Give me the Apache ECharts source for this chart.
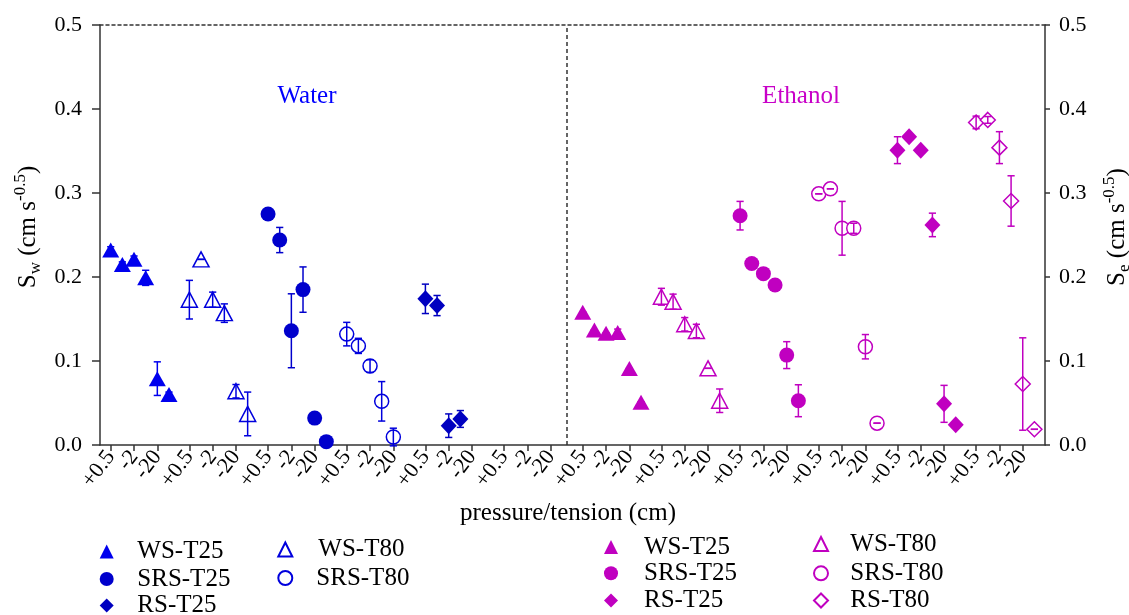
<!DOCTYPE html>
<html><head><meta charset="utf-8">
<script src="https://cdn.jsdelivr.net/npm/echarts@6/dist/echarts.min.js"></script>
<style>html,body{margin:0;padding:0;background:#fff}#c{width:1129px;height:615px}</style>
</head><body><div id="c"></div>
<script>
// ---- axis / category structure ----
const tickLabels = ['+0.5', '-2', '-20'];
const tickOffsets = [0, 2, 4];
const groupCount = 12;
const groupStep = 6.75;

// ---- Water (left axis, S_w) ----
const wWS25 = [0.232, 0.215, 0.221, 0.199, 0.079, 0.060];
const wWS25Err = [0.004, 0.003, 0.004, 0.009, 0.020, 0.003];
const wWS80 = [0.173, 0.221, 0.173, 0.157, 0.064, 0.037];
const wWS80Err = [0.023, 0, 0.009, 0.011, 0.008, 0.026];
const wSRS25 = [0.275, 0.244, 0.136, 0.185, 0.032, 0.004];
const wSRS25Err = [0, 0.015, 0.044, 0.027, 0, 0];
const wSRS80 = [0.132, 0.118, 0.094, 0.052, 0.0095];
const wSRS80Err = [0.014, 0.009, 0.0075, 0.0235, 0.0105];
const wRS25 = [0.174, 0.166, 0.023, 0.031];
const wRS25Err = [0.0175, 0.012, 0.014, 0.010];

// ---- Ethanol (right axis, S_e) ----
const eWS25 = [0.158, 0.137, 0.133, 0.134, 0.091, 0.051];
const eWS25Err = [0, 0, 0, 0.004, 0, 0];
const eWS80 = [0.1765, 0.1706, 0.1437, 0.1357, 0.0913, 0.0527];
const eWS80Err = [0.010, 0.009, 0.008, 0.008, 0, 0.014];
const eSRS25 = [0.273, 0.216, 0.204, 0.1905, 0.107, 0.0527];
const eSRS25Err = [0.017, 0, 0, 0, 0.016, 0.019];
const eSRS80 = [0.299, 0.305, 0.258, 0.258, 0.117, 0.026];
const eSRS80Err = [0, 0, 0.032, 0.006, 0.0145, 0];
const eRS25 = [0.351, 0.367, 0.351, 0.262, 0.049, 0.024];
const eRS25Err = [0.016, 0, 0, 0.014, 0.022, 0];
const eRS80 = [0.384, 0.387, 0.354, 0.2905, 0.0726, 0.0187];
const eRS80Err = [0.0075, 0.004, 0.019, 0.030, 0.055, 0];

const FONT = 'Liberation Serif';
const BLUE_T = '#0000ee', BLUE_C = '#0000cc', BLUE_D = '#0000c0', BLUE_H = '#0000dd';
const MAG = '#c000c0';
const AXIS = '#333';

const seriesDefs = [
  {name: 'Water WS-T25', group: 0, vals: wWS25, errs: wWS25Err, symbol: 'triangle', size: [17, 15], hollow: false, color: BLUE_T, y: 0},
  {name: 'Water WS-T80', group: 1, vals: wWS80, errs: wWS80Err, symbol: 'triangle', size: [16, 15], hollow: true, color: BLUE_H, y: 0},
  {name: 'Water SRS-T25', group: 2, vals: wSRS25, errs: wSRS25Err, symbol: 'circle', size: 15, hollow: false, color: BLUE_C, y: 0},
  {name: 'Water SRS-T80', group: 3, vals: wSRS80, errs: wSRS80Err, symbol: 'circle', size: 14, hollow: true, color: BLUE_H, y: 0},
  {name: 'Water RS-T25', group: 4, vals: wRS25, errs: wRS25Err, symbol: 'diamond', size: [16, 17], hollow: false, color: BLUE_D, y: 0},
  {name: 'Ethanol WS-T25', group: 6, vals: eWS25, errs: eWS25Err, symbol: 'triangle', size: [17, 15], hollow: false, color: MAG, y: 1},
  {name: 'Ethanol WS-T80', group: 7, vals: eWS80, errs: eWS80Err, symbol: 'triangle', size: [16, 15], hollow: true, color: MAG, y: 1},
  {name: 'Ethanol SRS-T25', group: 8, vals: eSRS25, errs: eSRS25Err, symbol: 'circle', size: 15, hollow: false, color: MAG, y: 1},
  {name: 'Ethanol SRS-T80', group: 9, vals: eSRS80, errs: eSRS80Err, symbol: 'circle', size: 14, hollow: true, color: MAG, y: 1},
  {name: 'Ethanol RS-T25', group: 10, vals: eRS25, errs: eRS25Err, symbol: 'diamond', size: [16, 17], hollow: false, color: MAG, y: 1},
  {name: 'Ethanol RS-T80', group: 11, vals: eRS80, errs: eRS80Err, symbol: 'diamond', size: 15, hollow: true, color: MAG, y: 1}
];

// tick values & labels (padded with hidden values at the axis ends)
const xMin = -0.918, xMax = 80.16;
const tickValues = [xMin + 0.01];
const tickLabelMap = {};
for (let g = 0; g < groupCount; g++) {
  tickOffsets.forEach((o, i) => {
    const v = g * groupStep + o;
    tickValues.push(v);
    tickLabelMap[v.toFixed(3)] = tickLabels[i];
  });
}
tickValues.push(xMax - 0.01);
const dividerX = ((5 * groupStep + 4) + 6 * groupStep) / 2;

const series = [];
seriesDefs.forEach(d => {
  const pts = d.vals.map((v, j) => [d.group * groupStep + j, v, d.errs[j] || 0]);
  series.push({
    type: 'scatter', name: d.name, xAxisIndex: 0, yAxisIndex: d.y,
    symbol: d.symbol, symbolSize: d.size, z: 2,
    itemStyle: d.hollow ? {color: '#fff', borderColor: d.color, borderWidth: 1.5, opacity: 1} : {color: d.color, borderWidth: 0, opacity: 1},
    emphasis: {disabled: true},
    data: pts.map(p => [p[0], p[1]])
  });
  series.push({
    type: 'custom', name: d.name + ' err', xAxisIndex: 0, yAxisIndex: d.y, z: 3, silent: true,
    encode: {x: 0, y: 1},
    data: pts,
    renderItem: function (params, api) {
      const x = api.value(0), y = api.value(1), e = api.value(2);
      const hi = api.coord([x, y + e]);
      const lo = api.coord([x, y - e]);
      const w = 3.6;
      const st = {stroke: d.color, lineWidth: 1.5};
      return {type: 'group', children: [
        {type: 'line', shape: {x1: hi[0], y1: hi[1], x2: lo[0], y2: lo[1]}, style: st},
        {type: 'line', shape: {x1: hi[0] - w, y1: hi[1], x2: hi[0] + w, y2: hi[1]}, style: st},
        {type: 'line', shape: {x1: lo[0] - w, y1: lo[1], x2: lo[0] + w, y2: lo[1]}, style: st}
      ]};
    }
  });
});
series.push({
  type: 'scatter', name: 'divider', xAxisIndex: 0, yAxisIndex: 0, data: [], silent: true,
  markLine: {silent: true, symbol: ['none', 'none'], label: {show: false}, animation: false,
    lineStyle: {color: AXIS, type: [4, 3], width: 1.5},
    data: [{xAxis: dividerX}]}
});

// one legend component per entry: [series name, icon centre x, icon centre y, text padding]
const legendEntries = [
  ['Water WS-T25', 106.7, 551.5, 18.6], ['Water SRS-T25', 106.7, 579, 18.6], ['Water RS-T25', 106.7, 605.5, 18.6],
  ['Water WS-T80', 284.3, 549.5, 21], ['Water SRS-T80', 284.3, 578, 19],
  ['Ethanol WS-T25', 611, 547, 21], ['Ethanol SRS-T25', 611, 573.3, 21], ['Ethanol RS-T25', 611, 600.5, 21],
  ['Ethanol WS-T80', 820, 544, 17.3], ['Ethanol SRS-T80', 820, 573.3, 17.3], ['Ethanol RS-T80', 820, 600.5, 17.3]
];
const legends = legendEntries.map(e => ({
  type: 'plain', data: [e[0]], orient: 'horizontal', left: e[1] - 7, top: e[2] - 12.5, itemGap: 0, padding: 0,
  itemWidth: 14, itemHeight: 14, align: 'left', selectedMode: false,
  formatter: n => n.replace(/^(Water|Ethanol) /, ''),
  textStyle: {fontFamily: FONT, fontSize: 25, color: '#000', padding: [0, 0, 0, e[3]]}
}));

const yLabel = {fontFamily: FONT, fontSize: 22, color: '#000', formatter: v => v.toFixed(1)};
const richTitle = {
  a: {fontFamily: FONT, fontSize: 25, lineHeight: 32, color: '#000'},
  sub: {fontFamily: FONT, fontSize: 17, lineHeight: 17, verticalAlign: 'bottom', color: '#000'},
  sup: {fontFamily: FONT, fontSize: 17, lineHeight: 17, verticalAlign: 'top', color: '#000'}
};

const option = {
  animation: false,
  backgroundColor: '#fff',
  grid: {left: 100, right: 84, top: 25, bottom: 170, outerBoundsMode: 'none'},
  xAxis: [
    {
      type: 'value', min: xMin, max: xMax, position: 'bottom',
      axisLine: {show: true, onZero: false, lineStyle: {color: AXIS, width: 1.5}},
      axisTick: {show: true, customValues: tickValues, length: 6, lineStyle: {color: AXIS, width: 1.5}},
      axisLabel: {customValues: tickValues, rotate: 53, margin: 8, fontFamily: FONT, fontSize: 22, color: '#000',
        showMinLabel: false, showMaxLabel: false, hideOverlap: false,
        formatter: v => tickLabelMap[(+v).toFixed(3)] || ''},
      splitLine: {show: false}
    },
    {
      type: 'value', min: xMin, max: xMax, position: 'top',
      axisLine: {show: true, onZero: false, lineStyle: {color: AXIS, width: 1.5, type: [3, 3]}},
      axisTick: {show: false}, axisLabel: {show: false}, splitLine: {show: false}
    }
  ],
  yAxis: [
    {
      type: 'value', min: 0, max: 0.5, interval: 0.1, position: 'left',
      axisLine: {show: true, onZero: false, lineStyle: {color: AXIS, width: 1.5}},
      axisTick: {show: true, length: 8, lineStyle: {color: AXIS, width: 1.5}},
      axisLabel: Object.assign({margin: 18}, yLabel),
      splitLine: {show: false}
    },
    {
      type: 'value', min: 0, max: 0.5, interval: 0.1, position: 'right',
      axisLine: {show: true, onZero: false, lineStyle: {color: AXIS, width: 1.5}},
      axisTick: {show: true, length: 5, lineStyle: {color: AXIS, width: 1.5}},
      axisLabel: Object.assign({margin: 14}, yLabel),
      splitLine: {show: false}
    }
  ],
  legend: legends,
  graphic: [
    {type: 'text', x: 307, y: 96.6, style: {text: 'Water', fontFamily: FONT, fontSize: 25, fill: '#0000ff', align: 'center', verticalAlign: 'middle'}},
    {type: 'text', x: 801, y: 96.6, style: {text: 'Ethanol', fontFamily: FONT, fontSize: 25, fill: '#c800c8', align: 'center', verticalAlign: 'middle'}},
    {type: 'text', x: 568, y: 513, style: {text: 'pressure/tension (cm)', fontFamily: FONT, fontSize: 25, fill: '#000', align: 'center', verticalAlign: 'middle'}},
    {type: 'text', x: 28, y: 227, rotation: Math.PI / 2, style: {text: '{a|S}{sub|w}{a| (cm s}{sup|-0.5}{a|)}', rich: richTitle, fontFamily: FONT, fontSize: 25, align: 'center', verticalAlign: 'middle'}},
    {type: 'text', x: 1117, y: 227, rotation: Math.PI / 2, style: {text: '{a|S}{sub|e}{a| (cm s}{sup|-0.5}{a|)}', rich: richTitle, fontFamily: FONT, fontSize: 25, align: 'center', verticalAlign: 'middle'}}
  ],
  series: series
};

const chart = echarts.init(document.getElementById('c'), null, {renderer: 'canvas'});
chart.setOption(option);
</script>
</body></html>
